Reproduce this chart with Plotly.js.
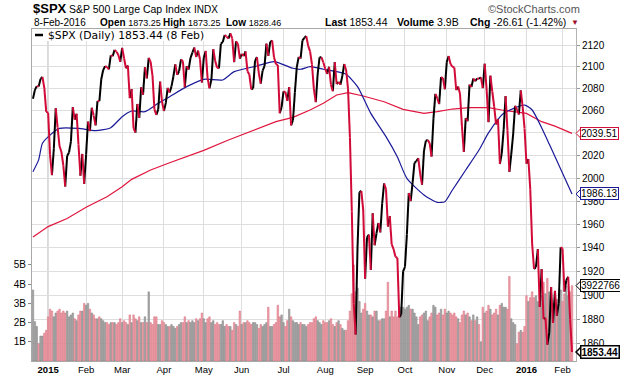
<!DOCTYPE html>
<html><head><meta charset="utf-8">
<script src="https://cdn.plot.ly/plotly-3.0.1.min.js"></script>
<style>html,body{margin:0;padding:0;background:#fff}#chart{width:620px;height:376px}</style>
</head><body><div id="chart"></div>
<script>
// ---------- DATA ----------
const dates = [
"2014-12-19","2014-12-22","2014-12-23","2014-12-24","2014-12-26","2014-12-29","2014-12-30","2014-12-31",
"2015-01-02","2015-01-05","2015-01-06","2015-01-07","2015-01-08","2015-01-09","2015-01-12","2015-01-13","2015-01-14","2015-01-15","2015-01-16","2015-01-20","2015-01-21","2015-01-22","2015-01-23","2015-01-26","2015-01-27","2015-01-28","2015-01-29","2015-01-30",
"2015-02-02","2015-02-03","2015-02-04","2015-02-05","2015-02-06","2015-02-09","2015-02-10","2015-02-11","2015-02-12","2015-02-13","2015-02-17","2015-02-18","2015-02-19","2015-02-20","2015-02-23","2015-02-24","2015-02-25","2015-02-26","2015-02-27",
"2015-03-02","2015-03-03","2015-03-04","2015-03-05","2015-03-06","2015-03-09","2015-03-10","2015-03-11","2015-03-12","2015-03-13","2015-03-16","2015-03-17","2015-03-18","2015-03-19","2015-03-20","2015-03-23","2015-03-24","2015-03-25","2015-03-26","2015-03-27","2015-03-30","2015-03-31",
"2015-04-01","2015-04-02","2015-04-06","2015-04-07","2015-04-08","2015-04-09","2015-04-10","2015-04-13","2015-04-14","2015-04-15","2015-04-16","2015-04-17","2015-04-20","2015-04-21","2015-04-22","2015-04-23","2015-04-24","2015-04-27","2015-04-28","2015-04-29","2015-04-30",
"2015-05-01","2015-05-04","2015-05-05","2015-05-06","2015-05-07","2015-05-08","2015-05-11","2015-05-12","2015-05-13","2015-05-14","2015-05-15","2015-05-18","2015-05-19","2015-05-20","2015-05-21","2015-05-22","2015-05-26","2015-05-27","2015-05-28","2015-05-29",
"2015-06-01","2015-06-02","2015-06-03","2015-06-04","2015-06-05","2015-06-08","2015-06-09","2015-06-10","2015-06-11","2015-06-12","2015-06-15","2015-06-16","2015-06-17","2015-06-18","2015-06-19","2015-06-22","2015-06-23","2015-06-24","2015-06-25","2015-06-26","2015-06-29","2015-06-30",
"2015-07-01","2015-07-02","2015-07-06","2015-07-07","2015-07-08","2015-07-09","2015-07-10","2015-07-13","2015-07-14","2015-07-15","2015-07-16","2015-07-17","2015-07-20","2015-07-21","2015-07-22","2015-07-23","2015-07-24","2015-07-27","2015-07-28","2015-07-29","2015-07-30","2015-07-31",
"2015-08-03","2015-08-04","2015-08-05","2015-08-06","2015-08-07","2015-08-10","2015-08-11","2015-08-12","2015-08-13","2015-08-14","2015-08-17","2015-08-18","2015-08-19","2015-08-20","2015-08-21","2015-08-24","2015-08-25","2015-08-26","2015-08-27","2015-08-28","2015-08-31",
"2015-09-01","2015-09-02","2015-09-03","2015-09-04","2015-09-08","2015-09-09","2015-09-10","2015-09-11","2015-09-14","2015-09-15","2015-09-16","2015-09-17","2015-09-18","2015-09-21","2015-09-22","2015-09-23","2015-09-24","2015-09-25","2015-09-28","2015-09-29","2015-09-30",
"2015-10-01","2015-10-02","2015-10-05","2015-10-06","2015-10-07","2015-10-08","2015-10-09","2015-10-12","2015-10-13","2015-10-14","2015-10-15","2015-10-16","2015-10-19","2015-10-20","2015-10-21","2015-10-22","2015-10-23","2015-10-26","2015-10-27","2015-10-28","2015-10-29","2015-10-30",
"2015-11-02","2015-11-03","2015-11-04","2015-11-05","2015-11-06","2015-11-09","2015-11-10","2015-11-11","2015-11-12","2015-11-13","2015-11-16","2015-11-17","2015-11-18","2015-11-19","2015-11-20","2015-11-23","2015-11-24","2015-11-25","2015-11-27","2015-11-30",
"2015-12-01","2015-12-02","2015-12-03","2015-12-04","2015-12-07","2015-12-08","2015-12-09","2015-12-10","2015-12-11","2015-12-14","2015-12-15","2015-12-16","2015-12-17","2015-12-18","2015-12-21","2015-12-22","2015-12-23","2015-12-24","2015-12-28","2015-12-29","2015-12-30","2015-12-31",
"2016-01-04","2016-01-05","2016-01-06","2016-01-07","2016-01-08","2016-01-11","2016-01-12","2016-01-13","2016-01-14","2016-01-15","2016-01-19","2016-01-20","2016-01-21","2016-01-22","2016-01-25","2016-01-26","2016-01-27","2016-01-28","2016-01-29",
"2016-02-01","2016-02-02","2016-02-03","2016-02-04","2016-02-05","2016-02-08"];

const closes = [
2070.65,2078.54,2082.17,2081.88,2088.77,2090.57,2080.35,2058.90,
2058.20,2020.58,2002.61,2025.90,2062.14,2044.81,2028.26,2023.03,2011.27,1992.67,2019.42,2022.55,2032.12,2063.15,2051.82,2057.09,2029.55,2002.16,2021.25,1994.99,
2020.85,2050.03,2041.51,2062.52,2055.47,2046.74,2068.59,2068.53,2088.48,2096.99,2100.34,2099.68,2097.45,2110.30,2109.66,2115.48,2113.86,2110.74,2104.50,
2117.39,2107.78,2098.53,2101.04,2071.26,2079.43,2044.16,2040.24,2065.95,2053.40,2081.19,2074.28,2099.50,2089.27,2108.10,2104.42,2091.50,2061.05,2056.15,2061.02,2086.24,2067.89,
2059.69,2066.96,2080.62,2076.33,2081.90,2091.18,2102.06,2092.43,2095.84,2106.63,2104.99,2081.18,2100.40,2097.29,2107.96,2112.93,2117.69,2108.92,2114.76,2106.85,2085.51,
2108.29,2114.49,2089.46,2080.15,2088.00,2116.10,2105.33,2099.12,2098.48,2121.10,2122.73,2129.20,2127.83,2125.85,2130.82,2126.06,2104.20,2123.48,2120.79,2107.39,
2111.73,2109.60,2114.07,2095.84,2092.83,2079.28,2080.15,2105.20,2108.86,2094.11,2084.43,2096.29,2100.44,2121.24,2109.99,2122.85,2124.20,2108.58,2102.31,2101.49,2057.64,2063.11,
2077.42,2076.78,2068.76,2081.34,2046.68,2051.31,2076.62,2099.60,2108.95,2107.40,2124.29,2126.64,2128.28,2119.21,2114.15,2102.15,2079.65,2067.64,2093.25,2108.57,2108.63,2103.84,
2098.04,2093.32,2099.84,2083.56,2077.57,2104.18,2084.07,2086.05,2083.39,2091.54,2102.44,2096.92,2079.61,2035.73,1970.89,1893.21,1867.61,1940.51,1987.66,1988.87,1972.18,
1913.85,1948.86,1951.13,1921.22,1969.41,1942.04,1952.29,1961.05,1953.03,1978.09,1995.31,1990.20,1958.03,1966.97,1942.74,1938.76,1932.24,1931.34,1881.77,1884.09,1920.03,
1923.82,1951.36,1987.05,1979.92,1995.83,2013.43,2014.89,2017.46,2003.69,1994.24,2023.86,2033.11,2033.66,2030.77,2018.94,2052.51,2075.15,2071.18,2065.89,2090.35,2089.41,2079.36,
2104.05,2109.79,2102.31,2099.93,2099.20,2078.58,2081.72,2075.00,2045.97,2023.04,2053.19,2050.44,2083.58,2081.24,2089.17,2086.59,2089.14,2088.87,2090.11,2080.41,
2102.63,2079.51,2049.62,2091.69,2077.07,2063.59,2047.62,2052.23,2012.37,2021.94,2043.41,2073.07,2041.89,2005.55,2021.15,2038.97,2064.29,2060.99,2056.50,2078.36,2063.36,2043.94,
2012.66,2016.71,1990.26,1943.09,1922.03,1923.67,1938.68,1890.28,1921.84,1880.33,1881.33,1859.33,1868.99,1906.90,1877.08,1903.63,1882.95,1893.36,1940.24,
1939.38,1903.03,1912.53,1915.45,1880.05,1853.44];

// volume in billions of shares
const volumes = [
3.7,2.05,1.8,0.9,1.3,1.3,1.45,1.6,
2.3,2.7,2.6,2.3,2.5,2.6,2.7,2.5,2.6,2.5,2.6,2.3,2.4,2.5,2.2,2.1,2.4,2.6,2.6,3.0,
2.9,3.0,2.7,2.5,2.4,2.2,2.2,2.3,2.2,2.1,2.0,2.0,1.9,2.0,2.0,2.0,1.9,2.0,2.2,
2.0,2.1,2.0,1.9,2.4,2.0,2.4,2.2,2.1,2.3,2.0,2.0,2.3,2.0,3.6,2.0,1.9,2.3,2.3,1.9,1.9,2.1,
2.0,1.9,1.8,1.8,1.9,1.8,1.7,1.8,1.9,2.0,2.0,2.3,2.0,2.1,2.0,2.1,2.0,2.2,2.1,2.2,2.5,
2.2,2.0,2.2,2.3,2.0,2.1,1.9,2.0,1.9,1.9,2.1,1.8,1.9,1.8,1.8,1.6,2.0,1.9,1.8,2.6,
1.9,2.0,2.0,2.1,2.0,1.9,2.0,2.0,1.9,1.7,1.9,1.8,1.9,2.0,2.8,1.8,1.8,1.9,2.0,2.9,2.3,2.4,
2.0,1.8,2.1,2.7,2.3,2.1,2.0,2.0,1.9,2.0,1.9,1.9,1.8,1.9,2.0,2.0,2.2,2.3,2.1,2.0,1.9,2.1,
2.0,2.0,2.1,2.2,1.9,1.8,2.0,2.1,1.9,1.7,1.6,1.6,2.1,2.6,3.5,5.0,3.6,3.8,3.1,2.5,2.7,
3.0,2.6,2.4,2.4,2.3,2.6,2.6,2.1,2.1,2.2,2.2,2.6,4.1,2.3,2.6,2.3,2.6,2.3,2.7,2.8,2.8,
2.7,2.8,2.9,2.7,2.7,2.5,2.3,1.9,2.3,2.4,2.5,2.6,2.1,2.3,2.5,2.9,2.8,2.4,2.5,2.7,2.4,2.7,
2.5,2.6,2.5,2.4,2.5,2.3,2.2,2.0,2.4,2.6,2.4,2.5,2.3,2.1,2.4,2.1,2.3,1.9,1.0,2.8,
2.5,2.6,2.9,2.7,2.4,2.5,2.7,2.4,2.9,3.0,2.8,2.8,2.7,4.4,2.2,2.0,1.9,0.9,1.5,1.6,1.5,1.8,
3.4,3.1,3.3,3.6,3.3,3.4,3.1,3.5,3.4,4.1,3.5,4.3,3.6,3.3,3.0,3.0,3.2,3.2,3.7,
3.1,3.5,3.9,3.4,3.6,3.922766];

// moving averages
const ma50Dates = ["2014-12-19","2014-12-24","2014-12-29","2015-01-05","2015-01-12","2015-01-27","2015-02-09","2015-02-20","2015-03-02","2015-03-09","2015-03-18","2015-03-27","2015-04-07","2015-04-20","2015-05-01","2015-05-15","2015-05-26","2015-06-11","2015-06-24","2015-07-09","2015-07-15","2015-07-22","2015-07-31","2015-08-11","2015-08-18","2015-08-26","2015-09-04","2015-09-17","2015-09-25","2015-10-02","2015-10-15","2015-10-26","2015-10-30","2015-11-05","2015-11-16","2015-11-25","2015-12-03","2015-12-15","2015-12-31","2016-01-07","2016-01-15","2016-01-21","2016-01-29","2016-02-08"];
const ma50 = [2005.6,2016,2030.7,2038,2044,2044,2042,2044.6,2054.5,2059.6,2059,2066.6,2072.6,2081.7,2088.4,2087.8,2095.4,2100.6,2104.6,2098.5,2097.6,2100,2097.6,2095.4,2093,2081.7,2057.5,2036.6,2018.5,1999.8,1985.3,1978.9,1979.4,1989.6,2007.1,2024.7,2040,2057.5,2065,2060.5,2041,2030,2008,1986.13];

const ma200Dates = ["2014-12-19","2015-01-02","2015-01-16","2015-02-02","2015-02-18","2015-03-02","2015-03-09","2015-03-23","2015-04-07","2015-04-22","2015-05-01","2015-05-20","2015-06-10","2015-06-25","2015-07-09","2015-07-22","2015-07-31","2015-08-11","2015-08-19","2015-08-31","2015-09-16","2015-09-30","2015-10-15","2015-10-26","2015-11-05","2015-11-18","2015-12-03","2015-12-14","2016-01-04","2016-01-14","2016-01-26","2016-02-08"];
const ma200 = [1949,1958,1965,1974.6,1983.8,1992.5,1998.9,2007.1,2013.5,2020.3,2024.4,2033.6,2042.6,2050,2053.9,2060.5,2066.6,2074.1,2076.2,2073.2,2068,2061.1,2057.5,2059,2061.4,2062.6,2062.6,2060.5,2057.5,2050,2046,2039.51];

const monthTicks = ["2015-01-02","2015-02-02","2015-03-02","2015-04-01","2015-05-01","2015-06-01","2015-07-01","2015-08-03","2015-09-01","2015-10-01","2015-11-02","2015-12-01","2016-01-04","2016-02-01"];
const monthLabels = ["2015","Feb","Mar","Apr","May","Jun","Jul","Aug","Sep","Oct","Nov","Dec","2016","Feb"];
const priceTicks = [1860,1880,1900,1920,1940,1960,1980,2000,2020,2040,2060,2080,2100,2120];
const volTicks = [1,2,3,4,5];
const volTickText = ["1B","2B","3B","4B","5B"];

// ---------- STYLE / BUILD ----------
const FONT = "Liberation Sans, Arial, sans-serif";
const UP = "#000000", DOWN = "#d10a38";
const PL=32, PR=576, PT=29, PB=361;
const fx = p => (p-PL)/(PR-PL);
const fy = p => (PB-p)/(PB-PT);
const pLo = Math.log10(1846.1), pHi = Math.log10(2134.9);
const vMax = 17.29;

const upX=[],upY=[],dnX=[],dnY=[];
for (let i=1;i<dates.length;i++){
  const up = closes[i] >= closes[i-1];
  const X = up?upX:dnX, Y = up?upY:dnY;
  X.push(dates[i-1], dates[i], dates[i]);
  Y.push(closes[i-1], closes[i], null);
}
const volUp = closes.map((c,i)=> i===0 ? true : c >= closes[i-1]);

const traces = [
 {type:'bar', x:dates, y:volumes, yaxis:'y', width:0.8,
  marker:{color: volUp.map(u=>u?'#aaaaaa':'#f0a3ac'),
          line:{color: volUp.map(u=>u?'#7c7c7c':'#d46878'), width:0.5}},
  hoverinfo:'skip'},
 {type:'scatter', mode:'lines', x:ma200Dates, y:ma200, yaxis:'y2', line:{color:'#e0163e', width:1.2}, hoverinfo:'skip'},
 {type:'scatter', mode:'lines', x:ma50Dates, y:ma50, yaxis:'y2', line:{color:'#1a1a98', width:1.2, shape:'spline', smoothing:0.6}, hoverinfo:'skip'},
 {type:'scatter', mode:'lines', x:upX, y:upY, yaxis:'y2', connectgaps:false, line:{color:UP, width:2}, hoverinfo:'skip'},
 {type:'scatter', mode:'lines', x:dnX, y:dnY, yaxis:'y2', connectgaps:false, line:{color:DOWN, width:2}, hoverinfo:'skip'}
];

function txt(text, px, py, size, extra){
  return Object.assign({xref:'paper', yref:'paper', x:fx(px), y:fy(py), xanchor:'left', yanchor:'middle',
    text:text, showarrow:false, font:{family:FONT, size:size, color:'#000'}}, extra||{});
}
const last = closes[closes.length-1];
const lastVol = volumes[volumes.length-1];
const ma50Last = ma50[ma50.length-1], ma200Last = ma200[ma200.length-1];

function endBox(text, yval, yref, col, bold, bw){
  return {xref:'paper', yref:yref, x:fx(580), y:yval, xanchor:'left', yanchor:'middle', showarrow:false,
    text: bold?'<b>'+text+'</b>':text, font:{family:FONT, size:10, color:'#000'},
    bgcolor:'#ffffff', bordercolor:col, borderwidth:bw, borderpad:0};
}
function ptr(pyPaper, col, bw){
  return {type:'path', xref:'paper', yref:'paper', xsizemode:'pixel', ysizemode:'pixel',
    xanchor:1, yanchor:pyPaper, path:'M0,0 L5.5,5.5 L5.5,-5.5 Z', fillcolor:'#ffffff', line:{color:col, width:bw}, layer:'above'};
}
const pp = v => (Math.log10(v)-pLo)/(pHi-pLo);
const sv = s => '<span style="font-size:9px">'+s+'</span>';

const annotations = [
  txt('<b>$SPX</b>', 31, 9, 13),
  txt('S&P 500 Large Cap Index', 67, 9.5, 10.5),
  txt('INDX', 192, 9.5, 10),
  txt('©StockCharts.com', 486, 9, 11, {font:{family:FONT,size:11,color:'#555'}}),
  txt('8-Feb-2016', 32, 22.5, 10),
  txt('<b>Open</b> '+sv('1873.25'), 98, 22.5, 10),
  txt('<b>High</b> '+sv('1873.25'), 161, 22.5, 10),
  txt('<b>Low</b> '+sv('1828.46'), 224, 22.5, 10),
  txt('<b>Last</b> 1853.44', 323, 22.5, 10.5),
  txt('<b>Volume</b> 3.9B', 395, 22.5, 10.5),
  txt('<b>Chg</b> -26.61 (-1.42%)', 468, 22.5, 10.5),
  txt('▼', 569, 22.5, 8, {font:{family:FONT,size:8,color:'#a01030'}}),
  txt('$SPX (Daily) 1853.44 (8 Feb)', 46, 35, 11, {font:{family:'DejaVu Sans, sans-serif',size:10.8,color:'#000'}}),
  endBox(ma200Last.toFixed(2), Math.log10(ma200Last), 'y2', '#d0103a', false, 1),
  endBox(ma50Last.toFixed(2), Math.log10(ma50Last), 'y2', '#1a1a98', false, 1),
  endBox(String(Math.round(lastVol*1e6)), lastVol, 'y', '#000000', false, 1),
  endBox(last.toFixed(2), Math.log10(last), 'y2', '#000000', true, 1.5)
];

const shapes = [
  {type:'line', xref:'x', yref:'paper', x0:'2015-01-02', x1:'2015-01-02', y0:0, y1:1, line:{color:'#9c9c9c', width:1}, layer:'between'},
  {type:'line', xref:'x', yref:'paper', x0:'2016-01-04', x1:'2016-01-04', y0:0, y1:1, line:{color:'#9c9c9c', width:1}, layer:'between'},
  {type:'rect', xref:'paper', yref:'paper', x0:fx(32.5), x1:fx(217), y0:fy(41), y1:fy(29.5), fillcolor:'#ffffff', line:{width:0}, layer:'above'},
  {type:'line', xref:'paper', yref:'paper', x0:fx(35), x1:fx(43), y0:fy(35), y1:fy(35), line:{color:'#000', width:2.5}, layer:'above'},
  ptr(pp(ma200Last), '#d0103a', 1),
  ptr(pp(ma50Last), '#1a1a98', 1),
  ptr(lastVol/vMax, '#000000', 1),
  ptr(pp(last), '#000000', 1.5)
];

const layout = {
  width:620, height:376, margin:{l:PL, r:620-PR, t:PT, b:376-PB, pad:0},
  paper_bgcolor:'#ffffff', plot_bgcolor:'#ffffff', showlegend:false,
  font:{family:FONT, size:10, color:'#000'},
  xaxis:{type:'category', categoryorder:'array', categoryarray:dates, range:[-0.5, 286.1],
    tickvals:monthTicks, ticktext:monthLabels.map(t=>/^\d{4}$/.test(t)?'<b>'+t+'</b>':t),
    tickfont:{family:FONT, size:9.5, color:'#000'}, ticks:'', showgrid:true, gridcolor:'#dedede', gridwidth:1,
    showline:true, linecolor:'#a8a8a8', mirror:true, zeroline:false, fixedrange:true},
  yaxis:{range:[0, vMax], side:'left', tickvals:volTicks, ticktext:volTickText, showgrid:false, zeroline:false,
    ticks:'outside', ticklen:3, tickcolor:'#888', tickfont:{family:FONT, size:10, color:'#000'},
    showline:true, linecolor:'#a8a8a8', fixedrange:true},
  yaxis2:{overlaying:'y', side:'right', type:'log', range:[pLo, pHi], tickvals:priceTicks,
    ticktext:priceTicks.map(v => v===2040 ? '' : String(v)),
    showgrid:true, gridcolor:'#dedede', gridwidth:1, zeroline:false, ticks:'outside', ticklen:3, tickcolor:'#999',
    tickfont:{family:FONT, size:10, color:'#000'}, showline:true, linecolor:'#b4b4b4', fixedrange:true},
  bargap:0.15,
  annotations:annotations, shapes:shapes
};
Plotly.newPlot('chart', traces, layout, {staticPlot:true, displayModeBar:false});
</script>
</body></html>
